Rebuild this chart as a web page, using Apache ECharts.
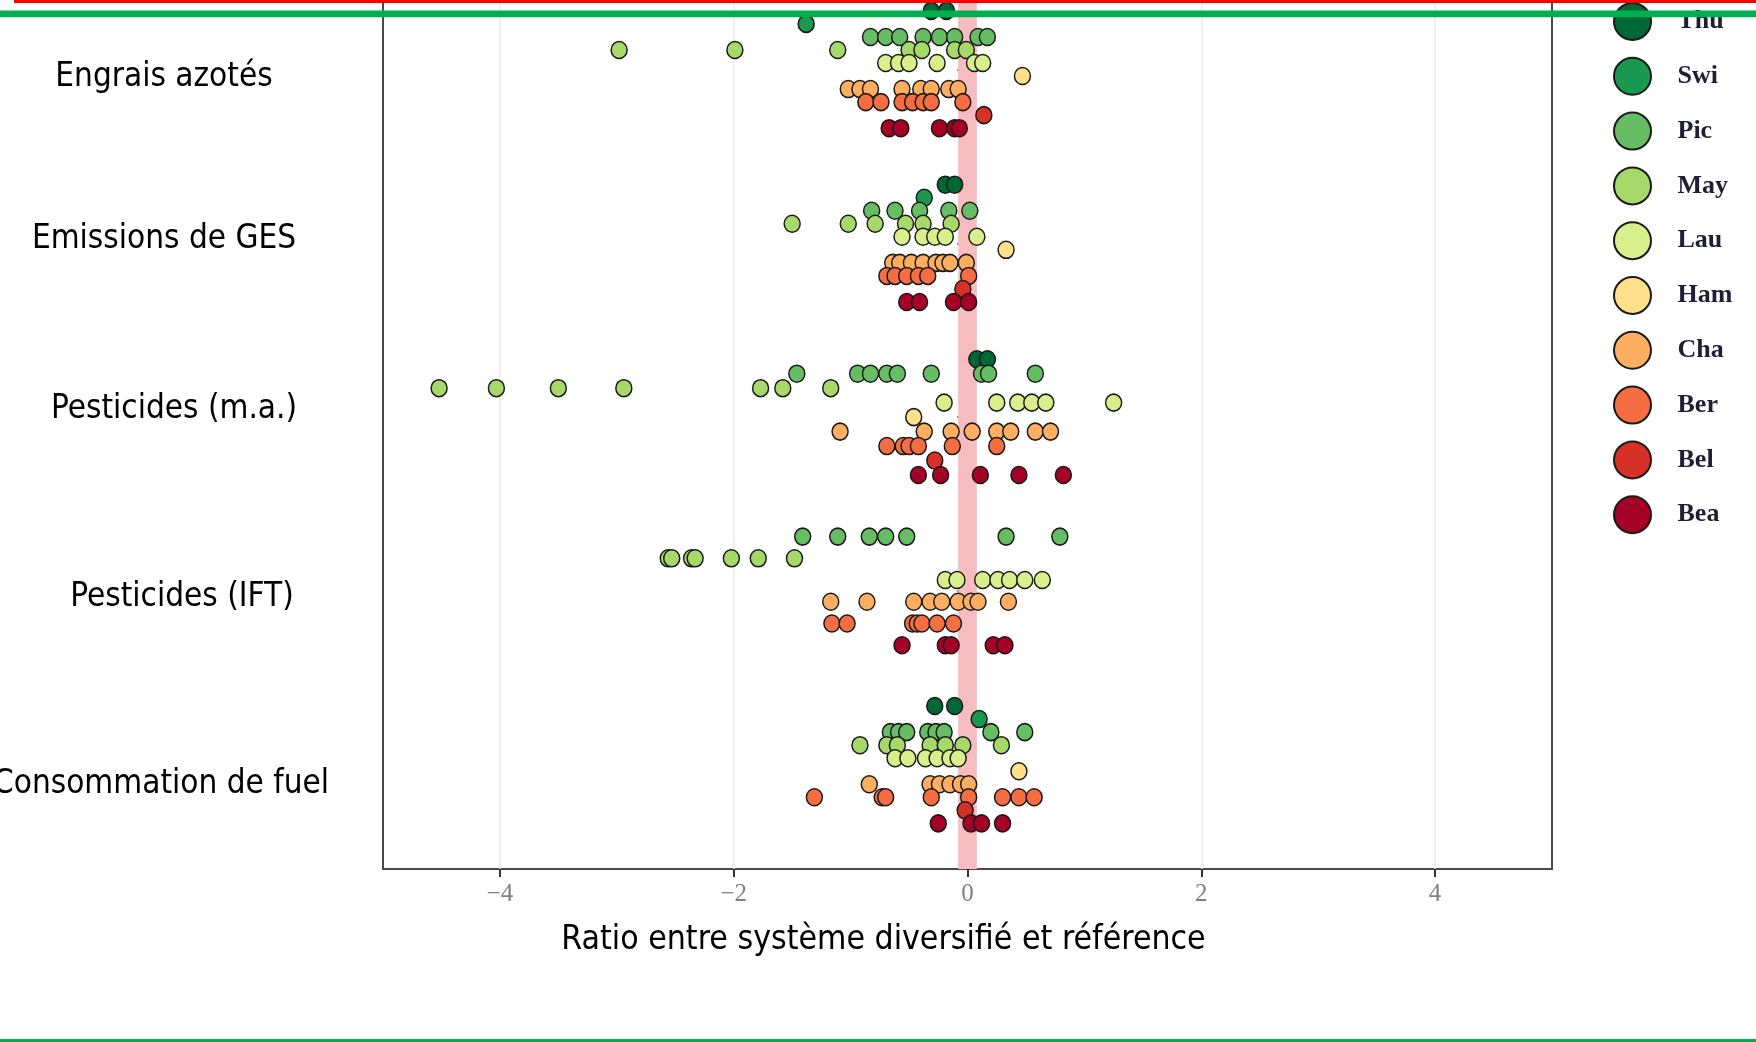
<!DOCTYPE html>
<html>
<head>
<meta charset="utf-8">
<script src="https://cdn.jsdelivr.net/npm/echarts@6/dist/echarts.min.js"></script>
<style>
  html, body { margin: 0; padding: 0; background: #fff; }
  #main { width: 1756px; height: 1042px; }
</style>
</head>
<body>
<div id="main"></div>
<script>
// categories, bottom to top (y = 1..5)
var categories = ['Consommation de fuel', 'Pesticides (IFT)', 'Pesticides (m.a.)', 'Emissions de GES', 'Engrais azotés'];
var sites = ['Thu', 'Swi', 'Pic', 'May', 'Lau', 'Ham', 'Cha', 'Ber', 'Bel', 'Bea'];
var siteColors = ['#006837', '#1a9850', '#66bd63', '#a6d96a', '#d9ef8b', '#fee08b', '#fdae61', '#f46d43', '#d73027', '#a50026'];
var xTicks = [-4, -2, 0, 2, 4];
var refBand = [-0.08, 0.08];

// ratio per site, one list per category (same order as categories)
var thu = [[-0.28, -0.11], [], [0.08, 0.17], [-0.19, -0.11], [-0.31, -0.18]];
var swi = [[0.10], [], [], [-0.37], [-1.38]];
var pic = [[-0.66, -0.59, -0.52, -0.34, -0.27, -0.20, 0.20, 0.49],
           [-1.41, -1.11, -0.84, -0.70, -0.52, 0.33, 0.79],
           [-1.46, -0.94, -0.83, -0.69, -0.60, -0.31, 0.12, 0.18, 0.58],
           [-0.82, -0.62, -0.41, -0.16, 0.02],
           [-0.83, -0.70, -0.58, -0.38, -0.24, -0.11, 0.09, 0.17]];
var may = [[-0.92, -0.69, -0.60, -0.32, -0.19, -0.04, 0.29],
           [-2.56, -2.53, -2.36, -2.33, -2.02, -1.79, -1.48],
           [-4.52, -4.03, -3.50, -2.94, -1.77, -1.58, -1.17],
           [-1.50, -1.02, -0.79, -0.53, -0.38, -0.14],
           [-2.98, -1.99, -1.11, -0.50, -0.39, -0.11, -0.01]];
var lau = [[-0.62, -0.51, -0.36, -0.26, -0.15, -0.08],
           [-0.19, -0.09, 0.13, 0.26, 0.36, 0.49, 0.64],
           [-0.20, 0.25, 0.43, 0.55, 0.67, 1.25],
           [-0.56, -0.38, -0.28, -0.19, 0.08],
           [-0.70, -0.59, -0.50, -0.26, 0.06, 0.13]];
var ham = [[0.44], [], [-0.46], [0.33], [0.47]];
var cha = [[-0.84, -0.32, -0.24, -0.15, -0.06, 0.01],
           [-1.17, -0.86, -0.46, -0.32, -0.22, -0.08, 0.03, 0.09, 0.35],
           [-1.09, -0.37, -0.14, 0.04, 0.25, 0.37, 0.58, 0.71],
           [-0.64, -0.58, -0.48, -0.38, -0.27, -0.21, -0.15, -0.01],
           [-1.02, -0.92, -0.83, -0.56, -0.40, -0.31, -0.16, -0.08]];
var ber = [[-1.31, -0.73, -0.70, -0.31, 0.01, 0.30, 0.44, 0.57],
           [-1.16, -1.03, -0.47, -0.43, -0.39, -0.26, -0.12],
           [-0.69, -0.55, -0.50, -0.42, -0.13, 0.25],
           [-0.69, -0.62, -0.52, -0.42, -0.34, 0.01],
           [-0.87, -0.74, -0.56, -0.47, -0.38, -0.31, -0.04]];
var bel = [[-0.02], [], [-0.28], [-0.04], [0.14]];
var bea = [[-0.25, 0.03, 0.12, 0.30],
           [-0.56, -0.19, -0.14, 0.22, 0.32],
           [-0.42, -0.23, 0.11, 0.44, 0.82],
           [-0.52, -0.41, -0.12, 0.01],
           [-0.67, -0.57, -0.24, -0.11, -0.07]];

var siteValues = [thu, swi, pic, may, lau, ham, cha, ber, bel, bea];

// dodge like ggplot position_dodge(0.75): sites present in a category share the width
var dodgeWidth = 0.75;
function dodgeY(siteIdx, catIdx) {
  var present = [];
  siteValues.forEach(function (v, i) { if (v[catIdx].length) present.push(i); });
  var k = present.indexOf(siteIdx), n = present.length;
  return catIdx + 1 + dodgeWidth / 2 - (k + 0.5) * dodgeWidth / n;
}

var sansNarrow = "'Liberation Sans Narrow', 'DejaVu Sans Condensed', 'Noto Sans', sans-serif";
var serif = "'Liberation Serif', 'DejaVu Serif', serif";

// nudge of each y label (slide text boxes): [dx, dy]
var labelNudge = [[-7, 20], [14, 7], [6, -8], [-4, -4], [-4, 8]];
var rich = {};
labelNudge.forEach(function (d, i) {
  rich['c' + i] = {
    fontFamily: sansNarrow, fontSize: 33, color: '#000',
    padding: [Math.max(0, 2 * d[1]), Math.max(0, -2 * d[0]), Math.max(0, -2 * d[1]), Math.max(0, 2 * d[0])]
  };
});

var series = sites.map(function (name, s) {
  var data = [];
  siteValues[s].forEach(function (vals, c) {
    vals.forEach(function (v) { data.push([v, dodgeY(s, c)]); });
  });
  return {
    name: name,
    type: 'scatter',
    data: data,
    symbol: 'circle',
    symbolSize: [16, 17],
    z: 3,
    itemStyle: { color: siteColors[s], borderColor: '#1a1a1a', borderWidth: 1.5, opacity: 1 },
    emphasis: { disabled: true }
  };
});

series.push({
  type: 'scatter',
  data: [],
  z: 1,
  silent: true,
  markArea: {
    silent: true,
    itemStyle: { color: '#f7bcc0' },
    data: [[{ xAxis: refBand[0] }, { xAxis: refBand[1] }]]
  }
});

var myChart = echarts.init(document.getElementById('main'), null, { renderer: 'canvas' });

var option = {
  animation: false,
  backgroundColor: '#fff',
  grid: {
    left: 383, right: 204, top: 0, bottom: 173,
    outerBoundsMode: 'none',
    containLabel: false,
    show: true, borderColor: '#4a4a4a', borderWidth: 2, backgroundColor: 'transparent'
  },
  legend: {
    data: sites,
    orient: 'vertical',
    left: 1613, top: 2,
    padding: 0,
    icon: 'circle',
    itemWidth: 80, itemHeight: 37,
    itemGap: 15.8,
    itemStyle: { borderColor: '#1a1a1a', borderWidth: 2 },
    textStyle: { fontFamily: serif, fontSize: 26, fontWeight: 'bold', color: '#1e1e36' },
    selectedMode: false
  },
  xAxis: {
    type: 'value',
    min: -5, max: 5, interval: 1,
    name: 'Ratio entre système diversifié et référence',
    nameLocation: 'middle',
    nameGap: 54,
    nameTextStyle: { fontFamily: sansNarrow, fontSize: 33.5, color: '#000', padding: [0, 168, 0, 0] },
    axisLine: { show: false },
    axisTick: { show: true, customValues: xTicks, length: 8, lineStyle: { color: '#333', width: 2 } },
    axisLabel: {
      customValues: xTicks, margin: 13,
      fontFamily: serif, fontSize: 25, color: '#80808c',
      formatter: function (v) { return v < 0 ? '\u2212' + Math.abs(v) : String(v); }
    },
    splitLine: { show: true, lineStyle: { color: '#ebebeb', width: 1.5 } }
  },
  yAxis: {
    type: 'value',
    // the panel runs past the top of the slide: upper limit is what stays visible
    min: 0.4, max: 5.4,
    axisLine: { show: false },
    axisTick: { show: true, customValues: [1, 2, 3, 4, 5], length: 10, lineStyle: { color: '#333', width: 2 } },
    axisLabel: {
      customValues: [1, 2, 3, 4, 5],
      align: 'center',
      margin: 215,
      formatter: function (v) { return '{c' + (v - 1) + '|' + categories[v - 1] + '}'; },
      rich: rich
    },
    splitLine: { show: false }
  },
  graphic: [
    { type: 'rect', z: 100, shape: { x: 14, y: 0, width: 1742, height: 3 }, style: { fill: '#ff0000' } },
    { type: 'rect', z: 100, shape: { x: 0, y: 10.5, width: 1756, height: 6.8 }, style: { fill: '#00b050' } },
    { type: 'rect', z: 100, shape: { x: 0, y: 1039, width: 1756, height: 3 }, style: { fill: '#00b050' } }
  ],
  series: series
};

myChart.setOption(option);
</script>
</body>
</html>
